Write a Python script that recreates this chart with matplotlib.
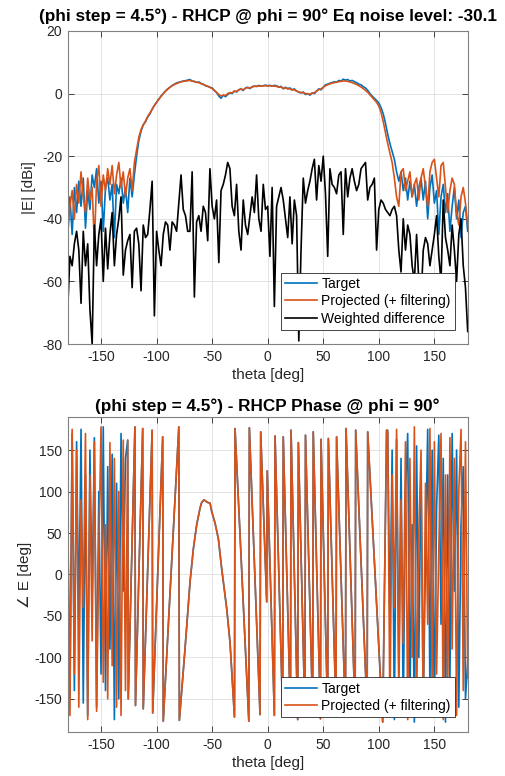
import numpy as np
import matplotlib
matplotlib.use('Agg')
import matplotlib.pyplot as plt

plt.rcParams['font.family'] = ['Liberation Sans', 'DejaVu Sans']
plt.rcParams['axes.unicode_minus'] = False

BLUE = '#0072BD'
ORANGE = '#D95319'

# ---- amplitude (top), theta every 2 deg
theta = np.arange(-180, 181, 2)

target_db = [
    -40, -33, -45, -30, -38, -28, -36, -27, -43, -31,
    -37, -26, -30, -24, -35, -28, -44, -30, -27, -34,
    -29, -46, -29, -32, -27, -35, -30, -38, -27, -33,
    -26, -20, -15, -12, -10, -9, -7.5, -6.5, -5, -3.8,
    -2.8, -1.8, -0.8, 0, 0.8, 1.5, 2.0, 2.6, 3.0, 3.4,
    3.6, 3.8, 4.0, 4.1, 4.3, 4.5, 4.0, 3.9, 3.6, 3.7,
    3.2, 3.0, 2.5, 2.3, 2.0, 1.8, 1.0, 0.3, -0.8, -1.5,
    -0.5, -1.0, -0.3, 0.2, 0.0, 0.8, 0.5, 1.2, 1.5, 1.0,
    1.8, 2.0, 1.6, 2.2, 2.4, 2.3, 2.6, 2.4, 2.5, 2.7,
    2.5, 2.6, 2.4, 2.6, 2.5, 2.0, 2.3, 1.5, 2.0, 1.6,
    1.8, 1.2, 1.5, 0.8, 0.5, 0.2, 0.5, -0.3, 0.0, -0.5,
    0.2, 0.0, 0.8, 1.5, 1.2, 2.0, 2.8, 3.0, 3.3, 3.5,
    3.8, 3.6, 4.2, 4.0, 4.6, 4.3, 4.5, 4.0, 4.2, 3.8,
    3.5, 3.0, 2.8, 2.2, 1.8, 1.0, 0.0, -0.8, -1.5, -2.2,
    -3.0, -4.5, -6.5, -9.5, -13, -16, -18.5, -21, -25, -28,
    -25, -31, -27, -34, -28, -33, -29, -36, -30, -27,
    -34, -28, -40, -30, -26, -35, -31, -45, -33, -29,
    -38, -32, -44, -36, -30, -40, -34, -46, -38, -36,
    -44]

projected_db = [
    -45, -36, -31, -40, -29, -35, -25, -33, -38, -27,
    -34, -30, -48, -28, -23, -36, -26, -31, -24, -29,
    -23, -32, -26, -22, -30, -25, -33, -27, -24, -31,
    -22, -18, -14, -11.5, -10, -8.8, -7.3, -6.2, -5.0, -3.8,
    -2.8, -1.8, -0.9, 0.0, 0.8, 1.4, 2.0, 2.5, 2.9, 3.2,
    3.5, 3.7, 3.9, 4.0, 4.1, 4.2, 4.0, 3.8, 3.6, 3.5,
    3.2, 2.9, 2.6, 2.3, 2.0, 1.6, 1.0, 0.4, -0.3, -0.8,
    -0.5, -0.6, 0.0, 0.3, 0.2, 0.8, 0.7, 1.2, 1.4, 1.2,
    1.7, 1.9, 1.8, 2.1, 2.3, 2.3, 2.4, 2.4, 2.5, 2.5,
    2.4, 2.5, 2.4, 2.4, 2.3, 2.1, 2.1, 1.7, 1.8, 1.5,
    1.5, 1.2, 1.2, 0.8, 0.5, 0.3, 0.3, 0.0, -0.1, -0.2,
    0.1, 0.3, 0.8, 1.3, 1.5, 2.0, 2.5, 2.8, 3.1, 3.3,
    3.5, 3.6, 3.8, 3.9, 4.0, 4.0, 3.9, 3.7, 3.5, 3.2,
    2.9, 2.5, 2.1, 1.6, 1.0, 0.4, -0.4, -1.2, -2.0, -2.8,
    -4.0, -6.0, -9.0, -12.5, -16, -19, -22, -27, -33, -36,
    -25, -24, -31, -28, -25, -33, -29, -27, -34, -27,
    -24, -30, -36, -25, -22, -21, -27, -33, -23, -22,
    -30, -38, -31, -27, -29, -38, -42, -33, -30, -35,
    -42]

diff_db = [
    -69, -52, -55, -48, -44, -50, -67, -44, -55, -48,
    -69, -80, -42, -55, -45, -40, -60, -43, -56, -45,
    -38, -55, -45, -40, -33, -58, -50, -47, -45, -62,
    -44, -43, -48, -63, -42, -46, -45, -37, -28, -71,
    -44, -50, -55, -45, -41, -42, -50, -41, -42, -44,
    -35, -26, -37, -39, -44, -44, -25, -65, -41, -39,
    -44, -36, -38, -47, -24, -36, -40, -34, -54, -31,
    -29, -26, -22, -24, -36, -39, -29, -44, -50, -34,
    -42, -45, -39, -33, -38, -26, -40, -44, -29, -37,
    -36, -52, -30, -68, -36, -33, -30, -34, -40, -46,
    -33, -48, -34, -39, -79, -50, -27, -35, -31, -28,
    -24, -21, -34, -23, -28, -20, -32, -52, -24, -29,
    -30, -32, -26, -25, -45, -24, -33, -27, -24, -28,
    -31, -29, -24, -23, -22, -34, -30, -29, -27, -50,
    -37, -34, -35, -37, -38, -39, -37, -36, -39, -50,
    -57, -40, -50, -42, -45, -55, -60, -45, -60, -66,
    -50, -46, -48, -55, -50, -45, -39, -52, -60, -34,
    -46, -50, -55, -42, -50, -60, -45, -40, -55, -62,
    -76]

# ---- phase (bottom)
ph_theta_left = np.arange(-180, -127, 2)
ph_target_left = [60, -150, 170, -140, 160, -60, 175, -155, 120, -170,
                  150, -30, 165, -160, 100, -120, 178, -140, 130, -90,
                  145, -175, 110, -150, 170, -20, 140]
ph_proj_left = [80, -170, 175, -120, 150, -160, 90, -40, 170, -175,
                120, -80, 160, -165, 30, 178, -130, 60, -150, 159,
                -110, 140, -160, 100, -170, 162, -140]

# central region: wrapped ramps, read at their turning points
ph_theta_mid = [-126, -125.5, -119.5, -119, -112.5, -112, -104, -103.5, -94.5, -94,
                -80, -79.5, -74.4, -69.9, -66.9, -63.9, -60.9, -59.4, -57.3, -54.3,
                -51.9, -50.4, -47.4, -44.4, -41.4, -36.9, -33.9, -29.9, -29.4, -17.0,
                -16.5, -6.9, -6.3, -0.9, -0.4, 6.0, 6.6, 13.5, 14.0, 20.5,
                21.0, 27.0, 27.6, 33.5, 34.0, 40.5, 41.0, 47.5, 48.0, 54.0,
                54.6, 61.5, 62.0, 70.0, 70.5, 78.7, 79.2, 89.5, 90.0, 103.5,
                107.0]
ph_mid = [162, -150, 178, -158, 176, -162, 174, -167, 166, -177,
          178, -176, -89.5, -9, 31, 60, 80, 87, 90, 87,
          86, 76, 62, 43, 7, -41, -82, -172, 176, -177,
          177, -169, 172, -33, 125, -170, 167, -169, 166, -172,
          174, -175, 159, -170, 168, -168, 172, -174, 163, -171,
          164, -166, 166, -170, 176, -168, 174, -165, 172, -178,
          174]

ph_theta_right = np.arange(108, 181, 2)
ph_target_right = [174, -60, 150, -175, 163, -120, 140, -170, 100, 170,
                   -150, 60, -178, 155, -100, 130, -160, 20, 175, -140,
                   150, -170, 80, 168, -60, 140, -178, 120, -130, 170,
                   -20, 150, -160, 60, 130, -150, -105]
ph_proj_right = [172, -170, 120, -40, 175, -150, 90, -83, 160, -175,
                 140, -100, 178, -160, 50, 150, -170, 110, -60, 176,
                 -145, 160, -120, 30, 170, -175, 120, -150, 165, -90,
                 140, -170, 100, 175, -140, 160, -125]

ph_theta = np.concatenate([ph_theta_left, ph_theta_mid, ph_theta_right])
ph_target = np.concatenate([ph_target_left, ph_mid, ph_target_right])
ph_proj = np.concatenate([ph_proj_left, ph_mid, ph_proj_right])


def style(ax):
    ax.grid(True, color='#dedede', lw=0.6)
    ax.set_axisbelow(True)
    ax.tick_params(direction='in', length=4, width=0.6, colors='#262626',
                   labelsize=10, top=True, right=True, pad=4)
    for s in ax.spines.values():
        s.set_color('#808080')
        s.set_linewidth(0.8)


def legend(ax, yoff):
    leg = ax.legend(loc='lower right', bbox_to_anchor=(0.968, yoff), borderaxespad=0,
                    fancybox=False, framealpha=1, edgecolor='#262626', fontsize=10,
                    handlelength=2.3, labelspacing=0.25, borderpad=0.3, handletextpad=0.3)
    leg.get_frame().set_linewidth(0.6)


fig = plt.figure(figsize=(5.06, 7.76), dpi=100)

ax1 = fig.add_axes([0.1338, 0.5567, 0.7905, 0.4034])
ax1.plot(theta, target_db, color=BLUE, lw=1.2, label='Target')
ax1.plot(theta, projected_db, color=ORANGE, lw=1.2, label='Projected (+ filtering)')
ax1.plot(theta, diff_db, color='k', lw=1.2, label='Weighted difference')
ax1.set_xlim(-180, 180)
ax1.set_ylim(-80, 20)
ax1.set_xticks([-150, -100, -50, 0, 50, 100, 150])
ax1.set_yticks([-80, -60, -40, -20, 0, 20])
style(ax1)
ax1.set_xlabel('theta [deg]', fontsize=11, color='#262626', labelpad=3)
ax1.set_ylabel('|E| [dBi]', fontsize=11, color='#262626', labelpad=4)
ax1.set_title('(phi step = 4.5°) - RHCP @ phi = 90° Eq noise level: -30.1',
              fontsize=12.3, fontweight='bold', pad=7)
legend(ax1, 0.045)

ax2 = fig.add_axes([0.1338, 0.0567, 0.7905, 0.406])
ax2.plot(ph_theta, ph_target, color=BLUE, lw=1.2, label='Target')
ax2.plot(ph_theta, ph_proj, color=ORANGE, lw=1.2, label='Projected (+ filtering)')
ax2.set_xlim(-180, 180)
ax2.set_ylim(-190, 190)
ax2.set_xticks([-150, -100, -50, 0, 50, 100, 150])
ax2.set_yticks([-150, -100, -50, 0, 50, 100, 150])
style(ax2)
ax2.set_xlabel('theta [deg]', fontsize=11, color='#262626', labelpad=3)
ax2.set_ylabel('∠ E [deg]', fontsize=11, color='#262626', labelpad=2)
ax2.set_title('(phi step = 4.5°) - RHCP Phase @ phi = 90°',
              fontsize=12.3, fontweight='bold', pad=4)
legend(ax2, 0.047)

fig.savefig('out.png', dpi=100)
